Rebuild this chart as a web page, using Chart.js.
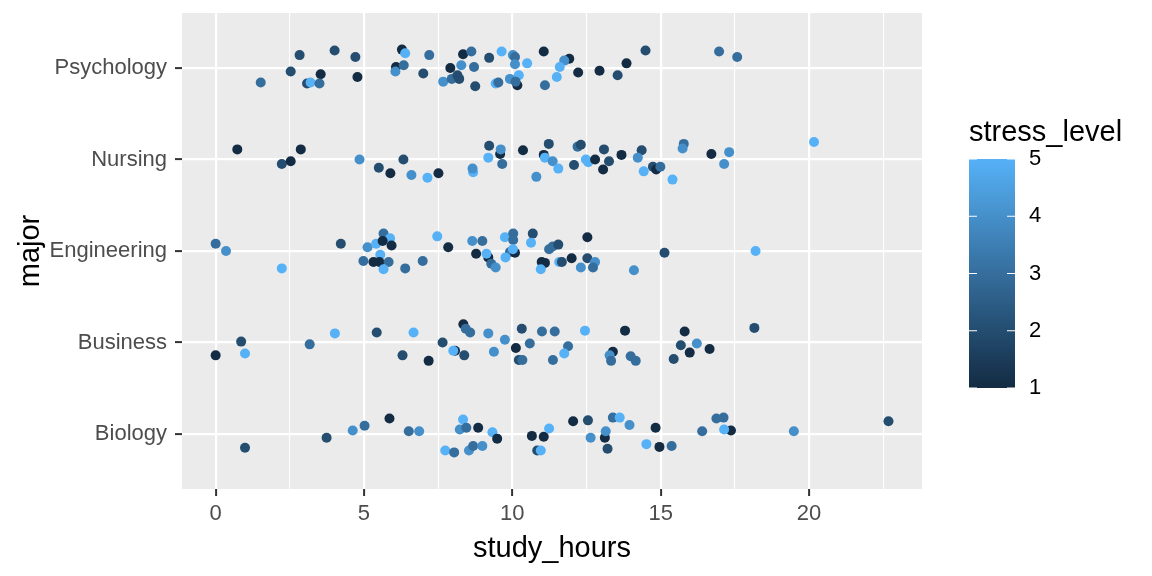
<!DOCTYPE html>
<html>
<head>
<meta charset="utf-8">
<script src="https://cdn.jsdelivr.net/npm/chart.js@4/dist/chart.umd.min.js"></script>
<style>
  html, body { margin: 0; padding: 0; background: #fff; }
  canvas { display: block; }
</style>
</head>
<body>
<canvas id="chartScatter" width="1152" height="576"></canvas>
<script>
(() => {

  // categories, bottom to top
  const majors = ['Biology', 'Business', 'Engineering', 'Nursing', 'Psychology'];

  // each point: [study_hours, vertical jitter, stress_level]
  const biology = [[0.99,-0.15,2],[3.74,-0.04,2],[4.62,0.04,4],[5.02,0.09,3],[5.86,0.17,1],[6.51,0.03,3],[6.86,0.03,4],[7.74,-0.18,5],[8.04,-0.20,3],[8.34,0.16,5],[8.23,0.05,4],[8.45,0.07,3],[8.85,0.07,1],[8.54,-0.18,4],[8.68,-0.13,3],[8.99,-0.13,4],[9.33,0.02,5],[9.49,-0.05,1],[10.66,-0.02,1],[11.06,-0.03,1],[10.84,-0.18,2],[10.96,-0.18,5],[11.24,0.06,5],[12.05,0.14,1],[12.55,0.15,2],[12.64,-0.04,4],[13.12,-0.04,1],[13.15,0.03,4],[13.21,-0.16,2],[13.39,0.18,3],[13.62,0.18,5],[13.95,0.10,4],[14.83,0.07,1],[14.52,-0.11,5],[14.96,-0.14,1],[15.37,-0.13,3],[16.40,0.03,3],[16.88,0.17,3],[17.12,0.18,3],[17.37,0.04,1],[17.14,0.05,5],[19.49,0.03,4],[22.68,0.14,2]];
  const business = [[0.00,-0.14,1],[0.86,0.01,2],[0.99,-0.12,5],[3.17,-0.02,3],[4.02,0.10,5],[5.43,0.11,2],[6.30,-0.14,2],[6.67,0.11,5],[7.18,-0.20,1],[7.65,0.00,2],[8.07,-0.09,1],[8.01,-0.09,5],[8.38,-0.14,2],[8.35,0.20,1],[8.43,0.15,3],[8.58,0.11,3],[9.19,0.10,4],[9.38,-0.10,4],[9.75,0.03,4],[10.12,-0.06,1],[10.32,0.15,2],[10.59,-0.01,3],[10.22,-0.19,2],[10.34,-0.19,3],[11.00,0.12,3],[11.43,0.12,3],[11.37,-0.19,3],[11.88,-0.04,3],[11.75,-0.12,5],[12.45,0.13,5],[13.80,0.13,1],[13.39,-0.10,1],[13.28,-0.14,4],[13.33,-0.20,3],[13.99,-0.15,3],[14.16,-0.20,3],[15.81,0.12,1],[15.68,-0.03,2],[16.22,-0.01,4],[15.98,-0.11,1],[16.65,-0.07,1],[15.44,-0.18,2],[18.16,0.16,2]];
  const engineering = [[0.00,0.08,3],[0.35,0.00,4],[2.23,-0.19,5],[4.22,0.08,2],[5.12,0.04,4],[5.41,0.08,5],[5.66,0.19,3],[5.88,0.14,5],[5.63,0.11,1],[5.93,0.06,1],[5.55,-0.04,5],[4.98,-0.11,3],[5.32,-0.12,1],[5.52,-0.12,1],[5.83,-0.12,3],[5.66,-0.20,5],[6.39,-0.19,3],[6.98,-0.11,3],[7.47,0.16,5],[7.84,0.04,1],[8.65,0.11,4],[8.99,0.11,3],[8.78,-0.03,1],[9.19,-0.07,1],[9.13,-0.03,5],[9.29,-0.14,3],[9.44,-0.18,4],[9.75,0.15,5],[10.03,0.19,3],[10.03,0.12,3],[9.92,-0.01,3],[10.09,-0.02,1],[10.02,0.02,5],[9.77,-0.07,5],[10.69,0.19,2],[10.63,0.09,5],[11.24,0.02,3],[11.36,0.05,3],[11.55,0.07,2],[10.99,-0.12,1],[11.10,-0.13,1],[10.96,-0.20,5],[11.58,-0.12,5],[11.67,-0.12,2],[12.00,-0.08,1],[12.53,0.15,1],[12.53,-0.08,2],[12.79,-0.12,4],[12.31,-0.18,4],[12.72,-0.18,3],[14.10,-0.21,4],[15.13,-0.02,2],[18.20,0.00,5]];
  const nursing = [[0.73,0.11,1],[2.23,-0.05,2],[2.53,-0.02,1],[2.87,0.11,1],[4.85,0.00,4],[5.50,-0.09,2],[5.89,-0.15,1],[6.33,0.00,2],[6.60,-0.17,4],[7.14,-0.20,5],[7.51,-0.15,1],[8.68,-0.14,5],[8.66,-0.10,4],[9.22,0.15,2],[9.19,0.02,5],[9.59,0.06,1],[9.61,0.11,4],[9.66,-0.05,3],[10.36,0.10,1],[10.81,-0.19,4],[11.06,0.05,1],[11.10,0.02,5],[11.23,0.17,2],[11.36,-0.02,4],[11.55,-0.10,5],[12.20,0.14,3],[12.31,0.16,2],[12.08,-0.06,2],[12.48,0.00,5],[12.56,-0.03,5],[12.79,0.00,1],[13.09,0.11,2],[13.26,-0.02,2],[13.06,-0.11,1],[13.68,0.05,1],[14.36,0.10,2],[14.23,0.02,4],[14.43,-0.13,5],[14.74,-0.08,2],[14.85,-0.11,1],[14.99,-0.08,3],[15.40,-0.22,5],[15.78,0.17,3],[15.74,0.12,4],[16.71,0.06,1],[17.31,0.08,4],[17.14,-0.05,4],[20.17,0.19,5]];
  const psychology = [[1.52,-0.16,3],[2.53,-0.04,2],[2.83,0.14,2],[3.54,-0.07,1],[3.08,-0.17,2],[3.20,-0.16,5],[3.50,-0.17,3],[4.01,0.19,2],[4.71,0.12,2],[4.78,-0.10,1],[6.28,0.20,1],[6.39,0.16,5],[6.08,0.01,1],[6.34,0.03,3],[6.06,-0.04,4],[7.20,0.14,3],[7.00,-0.06,2],[8.34,0.15,1],[8.62,0.18,3],[7.91,0.00,1],[8.28,0.03,4],[8.71,0.01,3],[7.67,-0.15,4],[7.96,-0.12,3],[8.15,-0.08,2],[8.21,-0.12,2],[8.75,-0.20,2],[9.22,0.11,2],[9.64,0.18,5],[10.02,0.14,4],[10.09,0.12,3],[10.09,0.04,4],[10.50,0.05,5],[11.06,0.18,1],[10.22,-0.08,5],[9.92,-0.12,4],[10.17,-0.19,1],[10.11,-0.15,3],[9.44,-0.17,5],[9.53,-0.16,3],[11.10,-0.19,3],[11.92,0.10,1],[11.75,0.08,4],[11.60,0.01,5],[11.50,-0.10,5],[12.22,-0.05,1],[12.94,-0.03,1],[13.55,-0.08,2],[13.85,0.05,1],[14.49,0.19,2],[16.97,0.18,3],[17.58,0.12,3]];

  const rows = [biology, business, engineering, nursing, psychology];

  const xMajorTicks = [0, 5, 10, 15, 20];
  const xMinorTicks = [2.5, 7.5, 12.5, 17.5, 22.5];
  const stressTicks = [1, 2, 3, 4, 5];

  const lowColor = [19, 43, 67];    // #132B43
  const highColor = [86, 177, 247]; // #56B1F7

  const stressColor = (s) => {
    const t = (s - 1) / 4;
    const c = lowColor.map((v, i) => Math.round(v + (highColor[i] - v) * t));
    return 'rgb(' + c.join(',') + ')';
  };

  const fontFamily = '"Liberation Sans", Arial, sans-serif';
  const tickSize = 22;
  const titleSize = 29;
  const isMajorX = (v) => xMajorTicks.includes(v);

  const panelBackground = {
    id: 'panelBackground',
    beforeDraw(chart) {
      const { ctx, chartArea: a } = chart;
      ctx.save();
      ctx.fillStyle = '#EBEBEB';
      ctx.fillRect(a.left, a.top, a.right - a.left, a.bottom - a.top);
      ctx.restore();
    }
  };

  // colourbar legend, like ggplot's guide_colourbar
  const colourBar = {
    id: 'colourBar',
    afterDraw(chart) {
      const ctx = chart.ctx;
      const left = 969, right = 1015, top = 159, bottom = 388;
      const yOf = (v) => bottom - (v - 1) * (bottom - top) / 4;
      ctx.save();
      const grad = ctx.createLinearGradient(0, bottom, 0, top);
      for (let i = 0; i <= 20; i++) {
        grad.addColorStop(i / 20, stressColor(1 + i / 5));
      }
      ctx.fillStyle = grad;
      ctx.fillRect(left, top, right - left, bottom - top);

      ctx.strokeStyle = '#ffffff';
      ctx.lineWidth = 1.2;
      stressTicks.forEach(v => {
        const y = yOf(v);
        ctx.beginPath();
        ctx.moveTo(left, y); ctx.lineTo(left + 8, y);
        ctx.moveTo(right - 8, y); ctx.lineTo(right, y);
        ctx.stroke();
      });

      ctx.fillStyle = '#000000';
      ctx.font = tickSize + 'px ' + fontFamily;
      ctx.textAlign = 'left';
      ctx.textBaseline = 'middle';
      stressTicks.forEach(v => ctx.fillText(String(v), 1029, yOf(v)));

      ctx.font = titleSize + 'px ' + fontFamily;
      ctx.textBaseline = 'alphabetic';
      ctx.fillText('stress_level', 969, 141);
      ctx.restore();
    }
  };

  const datasets = rows.map((row, i) => ({
    label: majors[i],
    data: row.map(p => ({ x: p[0], y: i + 1 + p[1] })),
    pointBackgroundColor: row.map(p => stressColor(p[2])),
    pointBorderWidth: 0,
    pointRadius: 5,
    pointHoverRadius: 5
  }));

  const ctx = document.getElementById('chartScatter').getContext('2d');

  new Chart(ctx, {
    type: 'scatter',
    data: { datasets: datasets },
    options: {
      responsive: false,
      animation: false,
      layout: { padding: { top: 13, right: 230, left: 0, bottom: 0 } },
      plugins: {
        legend: { display: false },
        tooltip: { enabled: false }
      },
      scales: {
        x: {
          type: 'linear',
          min: -1.134,
          max: 23.81,
          afterBuildTicks: (scale) => {
            scale.ticks = xMajorTicks.concat(xMinorTicks).sort((a, b) => a - b).map(v => ({ value: v }));
          },
          afterFit: (scale) => {
            scale.height = 87;
            scale.paddingLeft = 0;
            scale.paddingRight = 0;
          },
          border: { display: false },
          grid: {
            color: '#ffffff',
            lineWidth: (c) => isMajorX(c.tick.value) ? 2.2 : 1.1,
            tickColor: (c) => isMajorX(c.tick.value) ? '#333333' : 'rgba(0,0,0,0)',
            tickLength: 7,
            tickWidth: 2
          },
          ticks: {
            autoSkip: false,
            maxRotation: 0,
            padding: 5,
            color: '#4D4D4D',
            font: { family: fontFamily, size: tickSize },
            callback: (v) => isMajorX(v) ? String(v) : ''
          },
          title: {
            display: true,
            text: 'study_hours',
            color: '#000000',
            font: { family: fontFamily, size: titleSize },
            padding: { top: 0, bottom: 10 }
          }
        },
        y: {
          type: 'linear',
          min: 0.4,
          max: 5.6,
          afterBuildTicks: (scale) => {
            scale.ticks = majors.map((m, i) => ({ value: i + 1 }));
          },
          afterFit: (scale) => {
            scale.width = 182;
            scale.paddingTop = 0;
            scale.paddingBottom = 0;
          },
          border: { display: false },
          grid: {
            color: '#ffffff',
            lineWidth: 2.2,
            tickColor: '#333333',
            tickLength: 7,
            tickWidth: 2
          },
          ticks: {
            autoSkip: false,
            padding: 8,
            color: '#4D4D4D',
            font: { family: fontFamily, size: tickSize },
            callback: (v) => majors[v - 1]
          },
          title: {
            display: true,
            text: 'major',
            color: '#000000',
            font: { family: fontFamily, size: titleSize },
            padding: { top: 14, bottom: 0 }
          }
        }
      }
    },
    plugins: [panelBackground, colourBar]
  });

})();
</script>
</body>
</html>
